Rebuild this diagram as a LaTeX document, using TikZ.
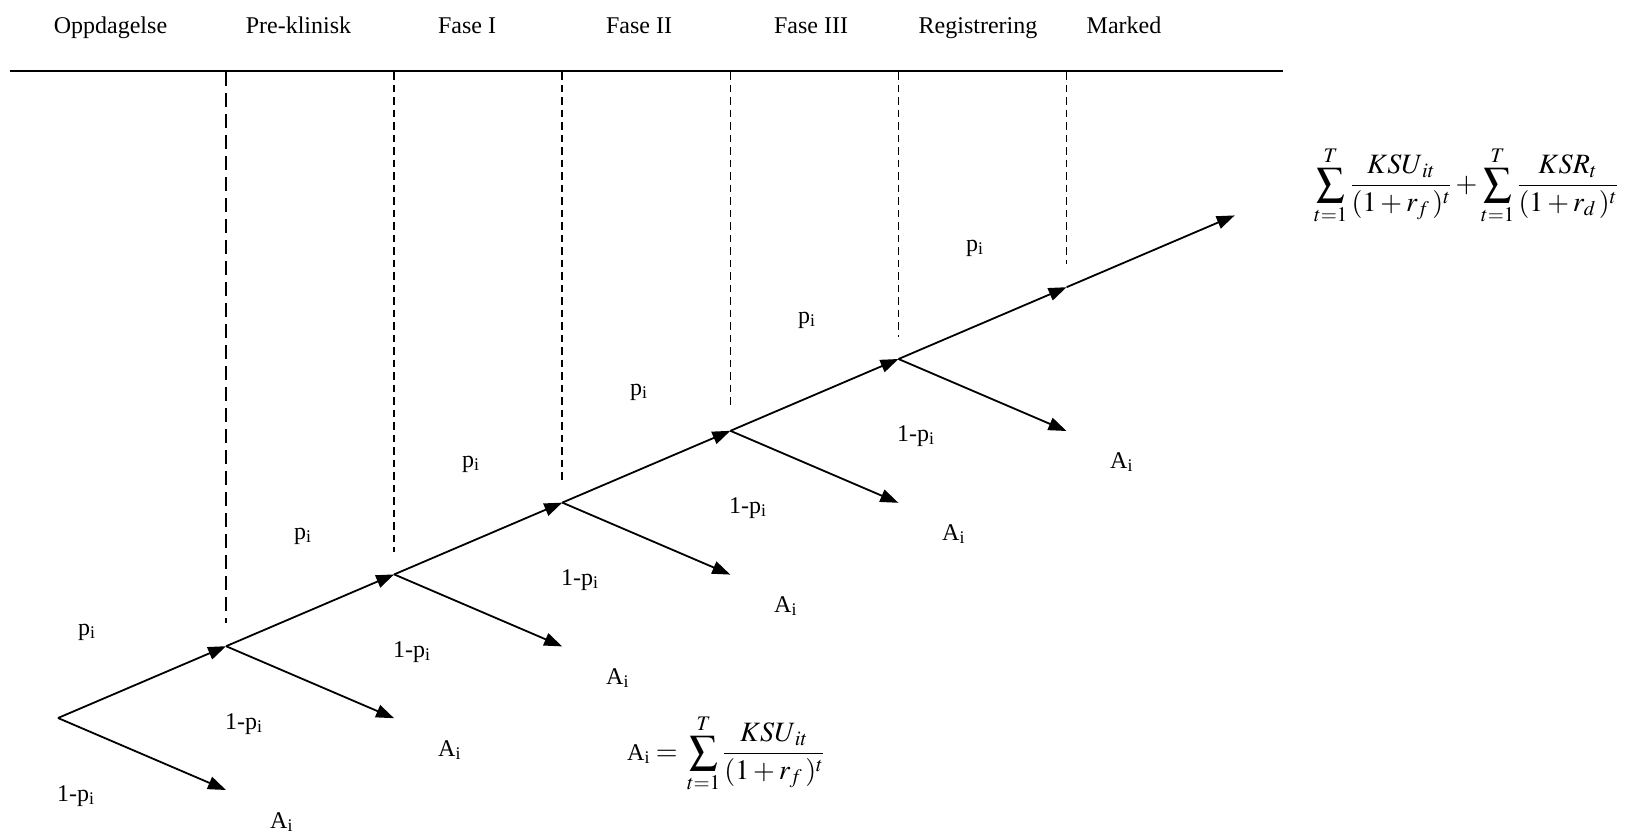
\documentclass[tikz,border=0pt]{standalone}
\usepackage{mathptmx}
\usepackage{fontspec}
\setmainfont{Liberation Serif}
\usetikzlibrary{arrows.meta}
\begin{document}
\begin{tikzpicture}[x=1pt,y=-1pt,
  lbl/.style={font=\fontsize{24}{28}\selectfont, inner sep=0pt},
  branch/.style={line width=1.8pt, -{Triangle[length=18pt,width=13pt]}},
  phaseline/.style={line width=2.4pt},
  longdash/.style={line width=1.7pt, dash pattern=on 14pt off 7pt},
  shortdash/.style={line width=1.7pt, dash pattern=on 7.5pt off 5pt},
  mathlbl/.style={font=\fontsize{28}{33}\selectfont, inner sep=0pt}
]
\useasboundingbox (0,0) rectangle (1627,833);

% tree nodes
\coordinate (n0) at (58,718);
\coordinate (n1) at (226.1,646.2);
\coordinate (n2) at (394.2,574.4);
\coordinate (n3) at (562.3,502.6);
\coordinate (n4) at (730.4,430.8);
\coordinate (n5) at (898.5,359);
\coordinate (n6) at (1066.6,287.2);
\coordinate (n7) at (1234.7,215.4);
\coordinate (d0) at (226,790);
\coordinate (d1) at (394.1,718.2);
\coordinate (d2) at (562.2,646.4);
\coordinate (d3) at (730.3,574.6);
\coordinate (d4) at (898.4,502.8);
\coordinate (d5) at (1066.5,431);

% top line
\coordinate (tl) at (10,71);
\coordinate (tr) at (1283,71);
\draw[phaseline] (tl) -- (tr);

% dashed phase lines
\coordinate (t1) at (226.1,72); \coordinate (b1) at (226.1,623);
\coordinate (t2) at (394.2,72); \coordinate (b2) at (394.2,552);
\coordinate (t3) at (562.3,72); \coordinate (b3) at (562.3,480);
\coordinate (t4) at (730.4,72); \coordinate (b4) at (730.4,409);
\coordinate (t5) at (898.5,72); \coordinate (b5) at (898.5,337);
\coordinate (t6) at (1066.6,72); \coordinate (b6) at (1066.6,264);
\draw[longdash] (t1) -- (b1);
\draw[shortdash] (t2) -- (b2);
\draw[shortdash] (t3) -- (b3);
\draw[shortdash] (t4) -- (b4);
\draw[shortdash] (t5) -- (b5);
\draw[shortdash] (t6) -- (b6);

% branches
\draw[branch] (n0) -- (n1);
\draw[branch] (n1) -- (n2);
\draw[branch] (n2) -- (n3);
\draw[branch] (n3) -- (n4);
\draw[branch] (n4) -- (n5);
\draw[branch] (n5) -- (n6);
\draw[branch] (n6) -- (n7);
\draw[branch] (n0) -- (d0);
\draw[branch] (n1) -- (d1);
\draw[branch] (n2) -- (d2);
\draw[branch] (n3) -- (d3);
\draw[branch] (n4) -- (d4);
\draw[branch] (n5) -- (d5);

% phase titles
\node[lbl, anchor=base] (h1) at (110.5,33) {Oppdagelse};
\node[lbl, anchor=base] (h2) at (298.5,33) {Pre-klinisk};
\node[lbl, anchor=base] (h3) at (467,33) {Fase I};
\node[lbl, anchor=base] (h4) at (639,33) {Fase II};
\node[lbl, anchor=base] (h5) at (811,33) {Fase III};
\node[lbl, anchor=base] (h6) at (978,33) {Registrering};
\node[lbl, anchor=base] (h7) at (1124,33) {Marked};

% p_i labels
\node[lbl, anchor=base west] (p0) at (78,635) {p\textsubscript{i}};
\node[lbl, anchor=base west] (p1) at (294,539) {p\textsubscript{i}};
\node[lbl, anchor=base west] (p2) at (462,467) {p\textsubscript{i}};
\node[lbl, anchor=base west] (p3) at (630,395) {p\textsubscript{i}};
\node[lbl, anchor=base west] (p4) at (798,323) {p\textsubscript{i}};
\node[lbl, anchor=base west] (p5) at (966,251) {p\textsubscript{i}};

% 1-p_i labels
\node[lbl, anchor=base west] (q0) at (57,801) {1-p\textsubscript{i}};
\node[lbl, anchor=base west] (q1) at (225,729) {1-p\textsubscript{i}};
\node[lbl, anchor=base west] (q2) at (393,657) {1-p\textsubscript{i}};
\node[lbl, anchor=base west] (q3) at (561,585) {1-p\textsubscript{i}};
\node[lbl, anchor=base west] (q4) at (729,513) {1-p\textsubscript{i}};
\node[lbl, anchor=base west] (q5) at (897,441) {1-p\textsubscript{i}};

% A_i labels
\node[lbl, anchor=base west] (a0) at (270,828) {A\textsubscript{i}};
\node[lbl, anchor=base west] (a1) at (438,756) {A\textsubscript{i}};
\node[lbl, anchor=base west] (a2) at (606,684) {A\textsubscript{i}};
\node[lbl, anchor=base west] (a3) at (774,612) {A\textsubscript{i}};
\node[lbl, anchor=base west] (a4) at (942,540) {A\textsubscript{i}};
\node[lbl, anchor=base west] (a5) at (1110,468) {A\textsubscript{i}};

% formulas
\node[mathlbl, anchor=west] (fa) at (627,753)
  {\fontsize{24}{28}\selectfont A\textsubscript{i} \fontsize{28}{33}\selectfont$= \,\displaystyle\sum_{t=1}^{T}\frac{KSU_{\,it}}{(1+r_f\,)^t}$};
\node[mathlbl, anchor=west] (fv) at (1314,185)
  {$\displaystyle\sum_{t=1}^{T}\frac{KSU_{\,it}}{(1+r_f\,)^t}+\sum_{t=1}^{T}\frac{KSR_{t}}{(1+r_d\,)^t}$};
\end{tikzpicture}
\end{document}
